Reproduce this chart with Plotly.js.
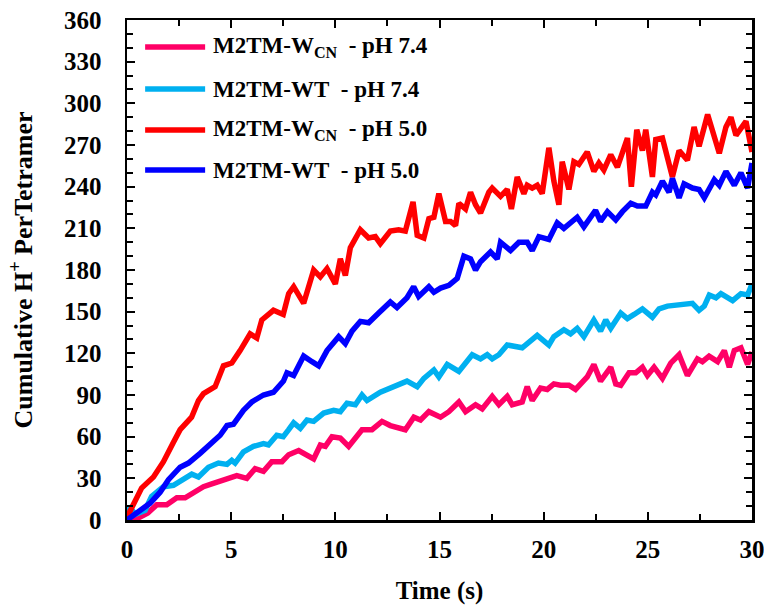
<!DOCTYPE html>
<html>
<head>
<meta charset="utf-8">
<script src="https://cdn.plot.ly/plotly-3.0.1.min.js"></script>
<style>html,body{margin:0;padding:0;background:#fff;}#chart{width:764px;height:611px;}</style>
</head>
<body>
<div id="chart"></div>
<script>
// ---- data ----
const seriesNames = ["M2TM-W<sub>CN</sub>\u00a0 - pH 7.4", "M2TM-WT\u00a0 - pH 7.4", "M2TM-W<sub>CN</sub>\u00a0 - pH 5.0", "M2TM-WT\u00a0 - pH 5.0"];
const seriesColors = ["#FF0066", "#00B0F0", "#FF0000", "#0000FF"];

const tWcn74 = [0,0.62,1.0,1.43,1.91,2.39,2.79,3.19,3.67,4.07,4.47,4.87,5.27,5.75,6.15,6.55,6.95,7.44,7.76,8.24,8.64,8.96,9.28,9.52,9.84,10.24,10.64,11.28,11.76,12.24,12.64,13.36,13.77,14.09,14.49,15.05,15.45,15.93,16.25,16.73,17.05,17.53,17.85,18.25,18.49,18.97,19.21,19.45,19.85,20.17,20.49,20.81,21.21,21.53,22.09,22.41,22.73,23.22,23.46,23.7,24.1,24.42,24.74,24.98,25.3,25.7,26.1,26.5,26.9,27.38,27.62,27.94,28.35,28.67,28.91,29.15,29.47,29.79,30.0];
const yWcn74 = [0,2,5,11,11,16,16,20,24,26,28,31,32,30,37,35,42,42,47,50,47,44,54,53,60,59,53,65,65,71,68,65,74,72,78,74,78,85,78,83,80,89,83,89,83,85,96,86,95,94,98,97,97,94,103,112,100,110,98,97,106,106,110,104,110,102,113,119,104,116,114,118,114,122,110,122,124,112,121];

const tWt74 = [0,0.1,0.4,0.87,1.18,1.75,2.23,2.71,3.11,3.43,3.91,4.39,4.8,5.03,5.19,5.59,6.07,6.55,6.79,7.19,7.5,7.76,8.0,8.32,8.64,8.96,9.44,9.92,10.24,10.56,10.96,11.28,11.52,12.16,12.64,12.96,13.44,13.93,14.25,14.73,14.97,15.37,15.93,16.57,16.97,17.29,17.53,17.85,18.25,18.97,19.69,20.25,20.49,20.97,21.29,21.61,21.93,22.41,22.73,22.98,23.22,23.7,24.02,24.34,24.74,25.22,25.54,25.94,26.5,27.14,27.46,27.71,27.95,28.27,28.51,29.07,29.47,29.79,30.0];
const yWt74 = [0,10,4,7,17,24,25,29,33,31,38,41,40,43,41,49,53,55,54,61,60,65,70,66,72,71,77,79,78,84,83,90,86,92,95,96,100,96,102,108,103,112,107,119,116,119,116,119,126,124,133,126,132,137,134,138,132,144,136,144,138,149,145,148,152,146,152,154,155,156,151,154,162,160,163,158,163,162,170];

const tWcn50 = [0,0.7,1.27,1.75,2.23,2.55,3.1,3.43,3.67,4.23,4.63,5.03,5.43,5.91,6.23,6.47,7.03,7.5,7.76,8.0,8.48,8.96,9.28,9.6,10.0,10.24,10.48,10.72,11.2,11.6,11.92,12.16,12.64,13.04,13.36,13.73,13.93,14.25,14.49,14.73,14.97,15.29,15.53,15.77,15.93,16.25,16.49,16.73,16.97,17.37,17.53,17.93,18.25,18.45,18.73,19.05,19.21,19.45,19.69,19.93,20.25,20.49,20.73,20.89,21.21,21.45,21.69,22.09,22.41,22.65,22.89,23.22,23.54,24.02,24.21,24.47,24.74,24.9,25.22,25.38,25.7,26.18,26.5,26.9,27.22,27.46,27.87,28.19,28.43,28.75,28.99,29.23,29.71,30.0];
const yWcn50 = [2,23,31,42,56,65,74,86,91,96,111,113,122,134,131,144,151,148,163,168,156,180,175,181,170,188,176,196,209,203,204,199,208,209,208,229,205,203,217,218,235,215,215,212,228,224,236,227,221,236,239,233,238,224,247,235,241,239,241,235,268,244,227,258,238,258,256,265,251,257,252,263,254,275,240,281,266,281,247,274,275,247,266,259,283,269,292,275,264,283,290,277,287,265];

const tWt50 = [0,0.62,1.1,1.59,1.99,2.55,2.95,3.51,4.07,4.47,4.8,5.11,5.59,5.99,6.55,7.03,7.51,7.68,8.0,8.48,8.88,9.2,9.6,10.16,10.48,10.8,11.2,11.6,12.08,12.64,12.96,13.44,13.76,14.0,14.49,14.73,15.05,15.45,15.85,16.17,16.49,16.73,16.97,17.45,17.77,17.93,18.41,18.81,19.21,19.45,19.77,20.25,20.65,20.97,21.61,21.93,22.49,22.73,23.06,23.46,23.78,24.18,24.5,24.9,25.22,25.38,25.7,26.02,26.18,26.5,26.74,27.14,27.46,27.71,28.19,28.43,28.75,29.15,29.47,29.79,30.0];
const yWt50 = [0,7,12,20,29,38,41,48,56,61,68,69,79,85,90,92,100,106,104,118,114,111,122,132,127,136,143,142,149,157,153,160,168,161,168,164,167,169,174,190,188,180,186,193,188,200,194,200,200,194,204,202,214,210,218,211,223,215,222,216,222,228,226,226,236,234,244,236,246,232,242,239,238,232,245,241,251,241,250,239,257];

const xTicks = [0,5,10,15,20,25,30];
const yTicks = [0,30,60,90,120,150,180,210,240,270,300,330,360];

// ---- chart ----
const FONT = "Liberation Serif, Times New Roman, serif";
const xs = [tWcn74, tWt74, tWcn50, tWt50];
const ys = [yWcn74, yWt74, yWcn50, yWt50];
const traces = xs.map((x, i) => ({
  x: x, y: ys[i], type: "scatter", mode: "lines",
  name: seriesNames[i], showlegend: false,
  line: {color: seriesColors[i], width: 5.5, shape: "linear"}
}));

// custom legend (long line samples like the reference)
const legendY = [0.946, 0.862, 0.78, 0.70];
const shapes = seriesNames.map((n, i) => ({
  type: "line", xref: "paper", yref: "paper",
  x0: 0.029, x1: 0.125, y0: legendY[i], y1: legendY[i],
  line: {color: seriesColors[i], width: 5.5}
}));
const annotations = seriesNames.map((n, i) => ({
  xref: "paper", yref: "paper", x: 0.135, y: legendY[i],
  xanchor: "left", yanchor: "middle", showarrow: false,
  text: "<b>" + n + "</b>",
  font: {family: FONT, size: 23, color: "#000"}
}));

const axisCommon = {
  showgrid: false, zeroline: false, showline: true, linecolor: "#000", linewidth: 2.5,
  mirror: "ticks", ticks: "inside", ticklen: 8, tickwidth: 2, tickcolor: "#000",
  ticklabeloverflow: "allow",
  tickfont: {family: FONT, size: 25, color: "#000", weight: "bold"}
};

const layout = {
  width: 764, height: 611,
  margin: {l: 127, r: 12, t: 20, b: 91},
  paper_bgcolor: "#fff", plot_bgcolor: "#fff",
  font: {family: FONT, color: "#000"},
  showlegend: false,
  xaxis: Object.assign({}, axisCommon, {
    range: [0, 30.0001], tickvals: xTicks, ticktext: xTicks.map(String),
    ticklabelstandoff: 5,
    minor: {tickvals: [2.5,7.5,12.5,17.5,22.5,27.5], ticks: "inside", ticklen: 6, tickwidth: 2, tickcolor: "#000", showgrid: false},
    title: {text: "<b>Time (s)</b>", font: {family: FONT, size: 25, color: "#000"}, standoff: 20}
  }),
  yaxis: Object.assign({}, axisCommon, {
    range: [0, 360], tickvals: yTicks, ticktext: yTicks.map(String),
    ticklabelstandoff: 18,
    minor: {dtick: 10, ticks: "inside", ticklen: 6, tickwidth: 2, tickcolor: "#000", showgrid: false},
    title: {text: "<b>Cumulative H<sup>+</sup> PerTetramer</b>", font: {family: FONT, size: 26, color: "#000"}, standoff: 24}
  }),
  shapes: shapes,
  annotations: annotations
};

Plotly.newPlot("chart", traces, layout, {displayModeBar: false, staticPlot: true});
</script>
</body>
</html>
